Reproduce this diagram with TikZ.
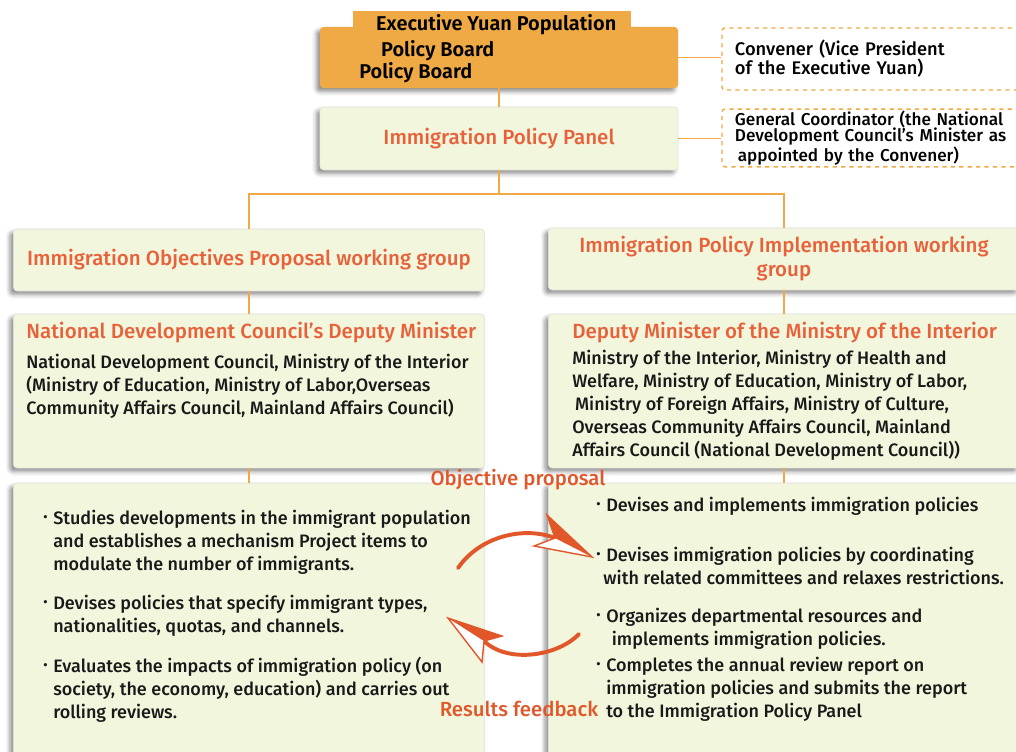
\documentclass[tikz,border=0pt]{standalone}
\usepackage{fontspec}
\setmainfont{Fira Sans}[UprightFont={* Medium}, BoldFont={* SemiBold}]
\usetikzlibrary{shadows.blur}

\definecolor{boardorange}{HTML}{EFAA45}
\definecolor{panelfill}{HTML}{F2F6DC}
\definecolor{headred}{HTML}{E8613A}
\definecolor{linkorange}{HTML}{F0A945}
\definecolor{arrowred}{HTML}{E2572A}

\newcommand{\dotitem}{\llap{\raisebox{2pt}{\small\textbullet}\hspace{4pt}}}

\tikzset{
  box/.style={rectangle, rounded corners=2.5pt, fill=panelfill, draw=black!12,
    blur shadow={shadow xshift=-2.5pt, shadow yshift=-2.5pt, shadow blur radius=3pt, shadow opacity=45}},
  link/.style={draw=linkorange, line width=1.4pt},
  note/.style={draw=linkorange, dash pattern=on 3pt off 3pt, line width=1pt, rounded corners=2pt,
    text width=7.3cm, inner xsep=0.325cm, inner ysep=1pt, align=left},
  headtext/.style={text=headred, font=\fontsize{14.6}{17}\selectfont},
  bodytext/.style={anchor=north west, inner sep=0pt, align=left, text=black!90, font=\fontsize{12.8}{16.4}\selectfont},
  flowarrow/.style={draw=arrowred, line width=2.8pt, line cap=round},
  flowlabel/.style={text=arrowred, font=\fontsize{14.5}{17}\selectfont},
}

\begin{document}
\begin{tikzpicture}[x=0.025cm, y=-0.025cm]
  \useasboundingbox (0,0) rectangle (1016,751);
  \clip (0,0) rectangle (1016,751);

  % board and panel
  \node[box, fill=boardorange, draw=none, minimum width=8.95cm, minimum height=1.525cm] (board) at (499,57.5) {};
  \fill[boardorange] (353,11) rectangle (631,30);
  \node[anchor=north west, inner sep=0pt, align=left, font=\bfseries\fontsize{14.2}{17}\selectfont] (boardname) at (359,14)
    {\hspace*{12pt}Executive Yuan Population\\[1.5pt]\hspace*{15.6pt}Policy Board\\[-1.4pt]Policy Board};
  \node[box, headtext, minimum width=8.95cm, minimum height=1.575cm] (panel) at (499,138.5) {Immigration Policy Panel};

  \node[note, minimum height=1.55cm, font=\fontsize{13}{13.5}\selectfont] (convener) at (881,59)
    {Convener (Vice President\\of the Executive Yuan)};
  \node[note, minimum height=1.35cm, font=\fontsize{12.2}{11.9}\selectfont] (coordinator) at (881,138)
    {General Coordinator (the National\\Development Council's Minister as\\\hspace*{2pt}appointed by the Convener)};

  % working groups
  \node[box, headtext, minimum width=11.775cm, minimum height=1.55cm] (objgroup) at (249,260)
    {Immigration Objectives Proposal working group};
  \node[box, headtext, align=center, minimum width=11.775cm, minimum height=1.55cm] (impgroup) at (784,259)
    {Immigration Policy Implementation working\\group};

  \node[box, minimum width=11.775cm, minimum height=3.85cm] (objminister) at (249,391) {};
  \node[box, minimum width=11.775cm, minimum height=3.85cm] (impminister) at (784,391) {};
  \node[box, minimum width=11.775cm, minimum height=7.675cm] (objtasks) at (249,636.5) {};
  \node[box, minimum width=11.775cm, minimum height=7.675cm] (imptasks) at (784,636.5) {};

  % connectors
  \draw[link] (board.east) -- (board.east -| convener.west);
  \draw[link] (panel.east) -- (panel.east -| coordinator.west);
  \draw[link] (board) -- (panel);
  \draw[link] (panel.south) -- ++(0,24) coordinate (split);
  \draw[link] (split) -| (objgroup.north);
  \draw[link] (split) -| (impgroup.north);
  \draw[link] (objgroup) -- (objminister);
  \draw[link] (impgroup) -- (impminister);
  \draw[link] (objminister) -- (objtasks);
  \draw[link] (impminister) -- (imptasks);

  % members
  \node[headtext, anchor=west, inner sep=0pt] (objchair) at (26,333) {National Development Council's Deputy Minister};
  \node[bodytext] (objmembers) at (26,354)
    {National Development Council, Ministry of the Interior\\
     (Ministry of Education, Ministry of Labor,Overseas\\
     Community Affairs Council, Mainland Affairs Council)};
  \node[headtext, anchor=west, inner sep=0pt] (impchair) at (572,333) {Deputy Minister of the Ministry of the Interior};
  \node[bodytext] (impmembers) at (572,350)
    {Ministry of the Interior, Ministry of Health and\\
     Welfare, Ministry of Education, Ministry of Labor,\\
     \hspace*{2pt}Ministry of Foreign Affairs, Ministry of Culture,\\
     Overseas Community Affairs Council, Mainland\\
     Affairs Council (National Development Council))};

  % tasks
  \node[bodytext] (objtask1) at (53,510)
    {\dotitem Studies developments in the immigrant population\\
     and establishes a mechanism Project items to\\
     modulate the number of immigrants.};
  \node[bodytext] (objtask2) at (53,595)
    {\dotitem Devises policies that specify immigrant types,\\
     nationalities, quotas, and channels.};
  \node[bodytext] (objtask3) at (53,657)
    {\dotitem Evaluates the impacts of immigration policy (on\\
     society, the economy, education) and carries out\\
     rolling reviews.};

  \node[bodytext] (imptask1) at (606,497) {\dotitem Devises and implements immigration policies};
  \node[bodytext] (imptask2) at (606,547)
    {\dotitem Devises immigration policies by coordinating\\
     \hspace*{-2pt}with related committees and relaxes restrictions.};
  \node[bodytext] (imptask3) at (606,608)
    {\dotitem Organizes departmental resources and\\
     \hspace*{4pt}implements immigration policies.};
  \node[bodytext] (imptask4) at (606,657)
    {\dotitem Completes the annual review report on\\
     immigration policies and submits the report\\
     to the Immigration Policy Panel};

  % proposal / feedback loop
  \coordinate (proposalstart) at (458,568);
  \coordinate (proposalend) at (555,538);
  \coordinate (proposaltip) at (592,557);
  \draw[flowarrow] (proposalstart) .. controls (480,536) and (524,526) .. (proposalend);
  \filldraw[draw=arrowred, fill=white, line width=1pt] (proposaltip) -- (547,515) -- (proposalend) -- (534,546) -- cycle;
  \fill[arrowred] (proposaltip) -- (547,515) -- (proposalend) -- cycle;

  \coordinate (feedbackstart) at (579,634);
  \coordinate (feedbackend) at (484,641);
  \coordinate (feedbacktip) at (448,618);
  \draw[flowarrow] (feedbackstart) .. controls (558,656) and (508,664) .. (feedbackend);
  \filldraw[draw=arrowred, fill=white, line width=1pt] (feedbacktip) -- (502,636) -- (feedbackend) -- (482,662) -- cycle;
  \fill[arrowred] (feedbacktip) -- (502,636) -- (feedbackend) -- cycle;

  \node[flowlabel] (proposal) at (518,480) {Objective proposal};
  \node[flowlabel] (feedback) at (519,709) {Results feedback};
\end{tikzpicture}
\end{document}
